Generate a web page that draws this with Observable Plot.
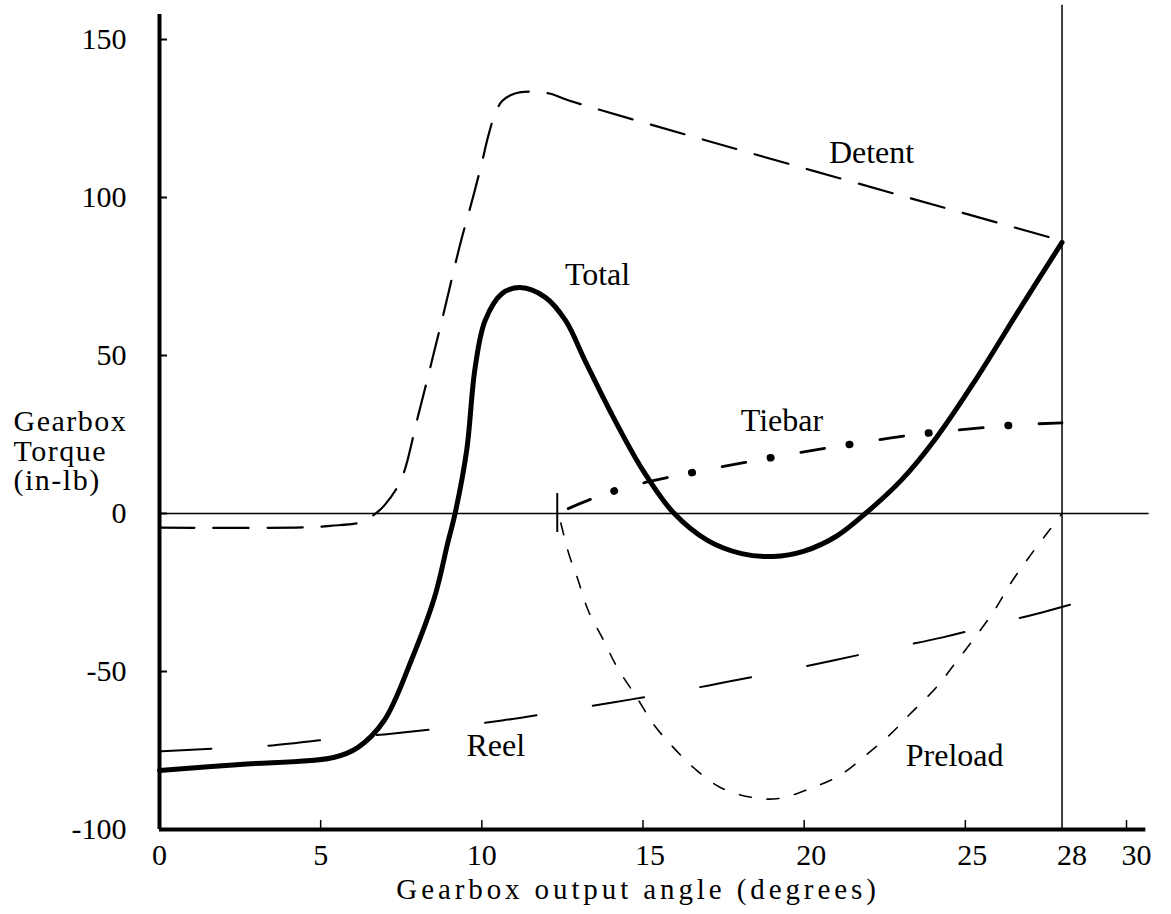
<!DOCTYPE html>
<html><head><meta charset="utf-8">
<script src="https://cdn.jsdelivr.net/npm/d3@7"></script>
<script src="https://cdn.jsdelivr.net/npm/@observablehq/plot@0.6"></script>
<style>html,body{margin:0;padding:0;background:#fff;} #chart svg{display:block;}</style>
</head><body><div id="chart"></div>
<script>
// ---- data ----
const totalX = [0, 2.5, 5.4, 6.16, 6.97, 7.81, 8.53, 8.95, 9.17, 9.53, 9.79, 10.1, 10.63, 11.19, 11.97, 12.6, 13.2, 13.97, 15.0, 15.94, 17.0, 18.06, 19.03, 20.0, 21.0, 21.9, 23.0, 24.1, 25.3, 26.7, 28];
const totalY = [-81.3, -79.4, -77.2, -74, -65.5, -46.5, -26.6, -9, 0, 20, 46, 61, 69.6, 71.5, 68.4, 61, 48.4, 32.6, 13.6, 0.3, -8.5, -12.7, -13.6, -11.9, -7.2, 0, 10.4, 24, 42, 64.9, 85.8];

const detentX = [0, 4.5, 5.3, 6.25, 6.6, 6.97, 7.5, 8.0, 8.53, 8.9, 9.31, 9.75, 10.0, 10.2, 10.38, 10.63, 11.03, 11.6, 12.1, 12.7, 28];
const detentY = [-4.5, -4.4, -3.9, -2.8, -0.8, 2.5, 10.8, 30, 51.6, 67, 84.5, 101, 111, 119.5, 125.5, 130.5, 132.9, 133.5, 132.9, 130.7, 86.3];

const reelX = [0, 1.66, 3.5, 5.2, 6.97, 8.7, 10.63, 12.2, 14.06, 15.7, 17.5, 19.1, 20.9, 22.5, 24.3, 25.9, 27.6, 29.25];
const reelY = [-75.3, -74.4, -73.4, -71.5, -69.9, -68.0, -65.5, -63, -59.8, -57, -53.5, -50.3, -46.5, -43, -39.2, -35.1, -30.7, -26];

const preloadX = [12.45, 12.7, 12.97, 13.3, 13.75, 14.2, 14.8, 15.35, 15.94, 16.6, 17.4, 18.4, 19.2, 20.2, 21.1, 21.9, 22.7, 23.3, 24.1, 24.75, 25.3, 25.9, 26.4, 26.97, 27.6, 28];
const preloadY = [-3, -12.8, -20.6, -30.7, -39.6, -48.7, -58.1, -67, -74, -80.7, -86.7, -89.9, -90.2, -87, -82.9, -76.6, -69.6, -63.3, -55, -46.5, -39.2, -30.7, -22.2, -13.9, -5.4, 0];

const tiebarX = [12.34, 13.4, 14.1, 15.1, 16.5, 18.3, 19.7, 21.5, 23.3, 24.75, 26.55, 28];
const tiebarY = [0, 4.6, 7.1, 9.9, 12.9, 16.4, 19.0, 22.0, 24.8, 26.4, 28.0, 28.7];
const tiebarStartX = [12.34];
const tiebarStartY1 = [-6];
const tiebarStartY2 = [6.3];

const seriesLabels = ["Detent", "Total", "Tiebar", "Reel", "Preload"];
const seriesLabelX = [22.09, 13.59, 19.31, 10.43, 24.67];
const seriesLabelY = [114.3, 75.4, 29.5, -73.4, -76.8];

const xTickLabelsA = [0, 5, 10];
const xTickLabelsB = [15, 20, 25];
const xTickLabelsC = [28, 30];
const xTickMarks = [5, 10, 15, 20, 25, 30];
const yTicks = [-100, -50, 0, 50, 100, 150];
const refLineX = [28];
const xTitle = "Gearbox output angle (degrees)";
const yTitle = "Gearbox\nTorque\n(in-lb)";

// axis-line extents
const yAxisTop = 157.9;
const refLineTop = 160.8;
const xAxisEnd = 30.6;
const zeroLineEnd = 30.7;

const zip = (xs, ys) => xs.map((x, i) => ({x, y: ys[i]}));
const total = zip(totalX, totalY);
const detent = zip(detentX, detentY);
const reel = zip(reelX, reelY);
const preload = zip(preloadX, preloadY);
const tiebar = zip(tiebarX, tiebarY);
const labels = seriesLabels.map((t, i) => ({t, x: seriesLabelX[i], y: seriesLabelY[i]}));
const tieStart = tiebarStartX.map((x, i) => ({x, y1: tiebarStartY1[i], y2: tiebarStartY2[i]}));

const ink = "#000";
const chart = Plot.plot({
  width: 1171, height: 914,
  marginLeft: 159, marginRight: 45, marginTop: 39, marginBottom: 85,
  x: {domain: [0, 30]},
  y: {domain: [-100, 150]},
  style: {fontFamily: "'Liberation Serif', 'Times New Roman', serif", background: "#fff", color: ink},
  marks: [
    // axis lines
    Plot.ruleX([0], {y1: -100, y2: yAxisTop, stroke: ink, strokeWidth: 4}),
    Plot.ruleY([-100], {x1: 0, x2: xAxisEnd, stroke: ink, strokeWidth: 4}),
    Plot.ruleY([0], {x1: 0, x2: zeroLineEnd, stroke: ink, strokeWidth: 1.5}),
    Plot.ruleX(refLineX, {y1: -100, y2: refLineTop, stroke: ink, strokeWidth: 1.5}),
    // ticks (inward) and tick labels
    Plot.axisX(xTickMarks, {tickSize: 9, dy: -9, tickFormat: () => "", label: null, stroke: ink, strokeWidth: 1.5}),
    Plot.axisY(yTicks, {tickSize: 8, dx: 8, tickFormat: () => "", label: null, stroke: ink, strokeWidth: 2}),
    Plot.axisX(xTickLabelsA, {tickSize: 0, tickPadding: 14, fontSize: 30, tickFormat: d => String(d), label: null, fill: ink}),
    Plot.axisX(xTickLabelsB, {tickSize: 0, tickPadding: 14, fontSize: 30, dx: 7, tickFormat: d => String(d), label: null, fill: ink}),
    Plot.axisX(xTickLabelsC, {tickSize: 0, tickPadding: 14, fontSize: 30, dx: 10, tickFormat: d => String(d), label: null, fill: ink}),
    Plot.axisY(yTicks, {tickSize: 0, tickPadding: 33, fontSize: 30, tickFormat: d => String(d), label: null, fill: ink}),
    // axis titles
    Plot.text([xTitle], {frameAnchor: "bottom", lineAnchor: "middle", dy: 60, dx: -5, fontSize: 29, fill: ink}),
    Plot.text([yTitle], {frameAnchor: "left", textAnchor: "start", lineAnchor: "middle", dx: -146, dy: 16.4, fontSize: 30, lineHeight: 1, fill: ink}),
    // series
    Plot.line(reel, {x: "x", y: "y", curve: "monotone-x", stroke: ink, strokeWidth: 2, strokeDasharray: "52,57"}),
    Plot.line(detent, {x: "x", y: "y", curve: "catmull-rom", stroke: ink, strokeWidth: 2.2, strokeDasharray: "35,19"}),
    Plot.line(preload, {x: "x", y: "y", curve: "catmull-rom", stroke: ink, strokeWidth: 1.6, strokeDasharray: "12,16"}),
    Plot.line(tiebar, {x: "x", y: "y", curve: "monotone-x", stroke: ink, strokeWidth: 2.8, strokeDasharray: "24,56", strokeDashoffset: 68}),
    Plot.line(tiebar, {x: "x", y: "y", curve: "monotone-x", stroke: ink, strokeWidth: 7.5, strokeLinecap: "round", strokeDasharray: "0.5,79.5", strokeDashoffset: 19}),
    Plot.ruleX(tieStart, {x: "x", y1: "y1", y2: "y2", stroke: ink, strokeWidth: 2}),
    Plot.line(total, {x: "x", y: "y", curve: "catmull-rom", stroke: ink, strokeWidth: 5, strokeLinejoin: "round", strokeLinecap: "round"}),
    // series labels
    Plot.text(labels, {x: "x", y: "y", text: "t", fontSize: 32, fill: ink})
  ]
});
const texts = d3.select(chart).selectAll("text");
texts.filter(function () { return this.textContent === xTitle; }).attr("letter-spacing", "3.9px");
texts.filter(function () { return this.textContent === yTitle.replace(/\n/g, ""); }).attr("letter-spacing", "1.5px");
document.getElementById("chart").appendChild(chart);
</script>
</body></html>
